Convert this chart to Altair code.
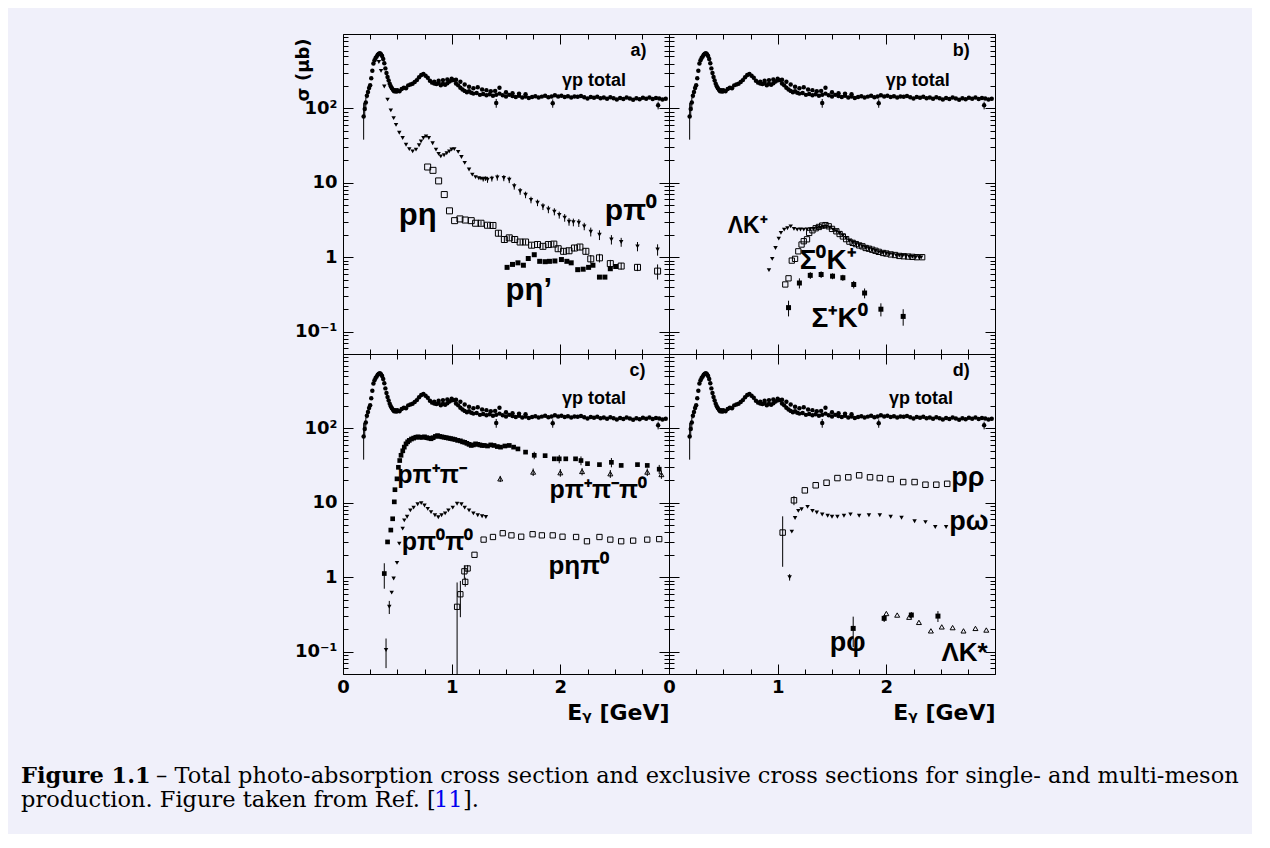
import altair as alt
import pandas as pd

FONT = "Liberation Sans"      # annotations
AXFONT = "DejaVu Sans"        # axis labels / titles (wider, as in the reference)
SERIF = "DejaVu Serif"
BG = "#f0f0fa"
W, H = 326, 320

# ---------------- total photo-absorption (same in all panels) ----------------
tot_E = [0.19,0.20,0.21,0.22,0.23,0.24,0.25,0.26,0.27,0.28,
         0.29,0.30,0.31,0.32,0.33,0.34,0.35,0.36,0.37,0.38,
         0.39,0.40,0.41,0.42,0.43,0.44,0.45,0.46,0.47,0.48,
         0.49,0.50,0.52,0.54,0.56,0.58,0.60,0.62,0.64,0.66,
         0.68,0.70,0.72,0.74,0.76,0.78,0.80,0.82,0.84,0.86,
         0.88,0.90,0.92,0.94,0.96,0.98,1.00,1.02,1.04,1.06,
         1.08,1.10,1.12,1.14,1.16,1.18,1.20,1.23,1.26,1.29,
         1.32,1.35,1.38,1.41,1.44,1.47,1.50,1.53,1.56,1.59,
         1.62,1.65,1.68,1.71,1.74,1.77,1.80,1.83,1.86,1.89,
         1.92,1.95,1.98,2.01,2.04,2.07,2.10,2.13,2.16,2.19,
         2.22,2.25,2.28,2.31,2.34,2.37,2.40,2.43,2.46,2.49,
         2.52,2.55,2.58,2.61,2.64,2.67,2.70,2.73,2.76,2.79,
         2.82,2.85,2.88,2.91,2.94,2.97]
tot_S = [78,98,120,148,166,188,205,255,320,400,
         445,475,500,528,545,550,535,505,460,405,
         345,300,265,238,215,198,186,178,170,176,
         168,175,170,182,190,186,204,210,214,226,
         240,262,282,290,274,258,236,222,216,212,
         220,204,214,208,218,230,238,240,216,204,
         190,180,172,165,170,162,158,161,152,156,
         150,155,148,152,158,150,145,152,147,142,
         148,140,145,138,142,146,140,144,148,141,
         145,150,145,148,142,146,140,145,143,147,
         141,136,142,139,143,137,140,135,141,137,
         132,138,134,140,136,131,137,133,139,135,
         140,134,138,136,132,135]
tot_err = [40, 22, 20, 12] + [0] * (len(tot_E) - 4)
tot2_E = [0.84,0.88,0.92,0.96,1.00,1.04,1.08,1.12,1.16,1.20,1.24,1.28,1.32,1.36,1.40,1.44,1.50,1.56,1.62,1.68]
tot2_S = [228,236,240,245,250,242,228,210,196,186,192,180,176,170,172,190,165,160,158,155]
tot3_E = [1.41, 1.93, 2.90]
tot3_S = [118, 117, 110]
tot3_err = [16, 15, 13]

# ---------------- panel a ----------------
pi0_E = [0.33,0.35,0.38,0.41,0.44,0.466,0.488,0.518,0.549,0.58,0.61,0.641,0.672,0.70,0.718,
         0.74,0.764,0.79,0.825,0.856,0.88,0.90,0.93,0.955,0.978,1.00,1.024,1.06,1.09,1.12,
         1.16,1.19,1.22,1.25,1.27,1.29,1.31,1.33,1.37,1.42,1.48,1.53,1.576,1.63,1.68,
         1.73,1.79,1.84,1.89,1.945,1.99,2.04,2.08,2.12,2.17,2.22,2.28,2.36,2.47,2.56,2.71,2.895]
pi0_S = [420,320,197,131,94,74,60,47,40,32.5,28.3,26.5,27.9,32,36,
         40,42,40,34,27.9,24.5,22.7,23.5,25,26.5,28,28.3,26,22.2,18.5,
         15.1,12.9,11.9,11.5,11.4,11.2,11.4,11,11.4,11.8,11.6,11,9.0,7.7,6.9,
         5.9,5.4,4.8,4.4,4.1,3.7,3.4,3.0,2.95,2.9,2.6,2.2,2.0,1.73,1.6,1.4,1.27]
pi0_err = [0] * 35 + [0.8,0.8,1.0,1.0,1.1,1.1,1.1,0.9,0.8,0.7,0.6,0.55,0.5,0.5,0.45,
                      0.4,0.4,0.35,0.35,0.35,0.3,0.3,0.3,0.25,0.22,0.2,0.22]

eta_E = [0.779,0.828,0.88,0.932,0.98,1.027,1.076,1.125,1.18,1.22,1.27,1.33,1.38,1.43,1.485,
         1.53,1.58,1.63,1.68,1.736,1.79,1.84,1.89,1.94,1.98,2.03,2.08,2.13,2.18,2.235,
         2.28,2.36,2.46,2.56,2.71,2.895]
eta_S = [16.3,14.7,10.6,6.95,4.2,3.1,3.27,3.16,3.1,2.86,2.86,2.69,2.67,2.1,1.73,
         1.82,1.73,1.6,1.6,1.45,1.48,1.4,1.48,1.5,1.3,1.2,1.22,1.33,1.37,1.2,
         0.95,0.98,0.82,0.76,0.73,0.65]
eta_err = [0] * 10 + [0.2,0.2,0.2,0.2,0.18,0.15,0.15,0.13,0.13,0.12,0.12,0.12,0.12,0.13,0.12,
                      0.12,0.12,0.13,0.13,0.12,0.12,0.13,0.1,0.08,0.08,0.15]

etap_E = [1.51,1.56,1.61,1.66,1.705,1.76,1.81,1.86,1.90,1.95,2.01,2.06,2.10,2.16,2.21,2.26,2.30,2.36,2.41,2.46,2.51]
etap_S = [0.73,0.80,0.84,0.78,0.96,1.08,0.88,0.87,0.88,0.89,0.93,0.88,0.84,0.68,0.69,0.73,0.78,0.54,0.54,0.70,0.75]

# ---------------- panel b ----------------
lk_E = [0.92,0.95,0.98,1.01,1.03,1.06,1.09,1.12,1.15,1.18,1.21,1.24,1.27,1.30,1.33,1.36,1.39,1.42,1.45,1.48,
        1.51,1.54,1.57,1.60,1.63,1.66,1.69,1.72,1.75,1.78,1.81,1.84,1.87,1.90,1.93,1.97,2.00,2.03,2.06,2.09,
        2.12,2.15,2.18,2.21,2.24,2.27,2.30,2.32]
lk_S = [0.67,0.95,1.33,1.78,2.12,2.35,2.45,2.6,2.4,2.35,2.36,2.35,2.36,2.38,2.4,2.45,2.5,2.55,2.58,2.5,
        2.35,2.23,2.1,1.95,1.8,1.66,1.58,1.5,1.45,1.4,1.34,1.3,1.25,1.21,1.17,1.14,1.12,1.1,1.08,1.06,
        1.05,1.04,1.03,1.02,1.01,1.0,1.0,0.99]
s0k_E = [1.07,1.10,1.13,1.16,1.19,1.22,1.24,1.27,1.29,1.32,1.35,1.38,1.41,1.44,1.47,1.50,1.54,1.57,1.60,1.63,
         1.66,1.69,1.72,1.75,1.78,1.81,1.84,1.87,1.90,1.93,1.97,2.00,2.04,2.08,2.12,2.16,2.20,2.24,2.28,2.33]
s0k_S = [0.43,0.52,0.9,0.95,1.2,1.48,1.64,1.74,2.12,2.3,2.45,2.55,2.66,2.7,2.6,2.4,2.23,2.05,1.9,1.75,
         1.62,1.56,1.5,1.44,1.4,1.33,1.3,1.26,1.22,1.18,1.14,1.12,1.09,1.07,1.04,1.03,1.02,1.01,1.0,1.0]
spk_E = [1.10,1.20,1.30,1.40,1.505,1.60,1.70,1.80,1.95,2.155]
spk_S = [0.21,0.45,0.57,0.585,0.556,0.53,0.43,0.33,0.20,0.16]
spk_err = [0.05,0.07,0.06,0.06,0.05,0.05,0.05,0.05,0.04,0.04]

# ---------------- panel c ----------------
pipi_E = [0.38,0.41,0.44,0.457,0.472,0.478,0.497,0.51,0.522,0.534,0.55,0.564,0.58,0.595,0.61,
          0.63,0.65,0.67,0.69,0.71,0.73,0.75,0.77,0.79,0.81,0.83,0.85,0.87,0.89,0.91,
          0.93,0.95,0.97,0.99,1.01,1.03,1.055,1.08,1.10,1.12,1.14,1.16,1.18,1.20,1.22,
          1.24,1.26,1.28,1.30,1.33,1.36,1.39,1.42,1.45,1.49,1.53,1.57,1.61,1.68,1.76,
          1.86,1.945,1.99,2.05,2.14,2.19,2.25,2.36,2.47,2.56,2.71,2.80,2.91]
pipi_S = [1.12,2.98,4.3,6.1,10.3,15,21,30,37,43.5,50,56,62,66,69,
          72,74,76,77,76,76,77,75,74,72.6,75,78,80,78,77,
          76,75,74,73,72,71,69,68,66,65,63,61,59,60,62,
          61,60,59,59,58,60,59,57,56,58,59,56,53,48,43.5,
          43,39,39,39,39,37,33.6,32.6,35,31.8,32.6,31.8,28.3]
pipi_err = [0.42] + [0] * 58 + [5,0,0,5,0,0,5,0,0,5,0,0,0,4]
ppp_E = [1.447,1.75,2.0,2.20,2.46,2.80,2.93]
ppp_S = [21,25.9,25.4,26.4,24.6,25.9,24]
ppp_err = [2,3,3,3,3,3,3]
p00_E = [0.396,0.426,0.448,0.466,0.497,0.518,0.549,0.564,0.59,0.62,0.65,0.687,0.72,0.75,0.78,
         0.81,0.846,0.877,0.907,0.94,0.97,1.01,1.05,1.09,1.12,1.16,1.20,1.24,1.28,1.315]
p00_S = [0.105,0.4,0.62,0.96,1.56,2.83,4.5,5.8,6.5,7.9,8.6,9.55,9.9,9.2,8.3,
         7.5,6.8,6.4,6.8,7.2,7.9,8.6,9.7,9.55,8.6,7.9,7.2,6.8,6.6,6.45]
p00_err = [0.045, 0.08] + [0] * 28
epi_E = [1.05,1.08,1.117,1.125,1.147,1.21,1.294,1.38,1.47,1.55,1.64,1.745,1.83,1.93,2.02,
         2.145,2.245,2.36,2.46,2.56,2.67,2.80,2.91]
epi_S = [0.4,0.59,1.2,0.865,1.31,2.0,3.2,3.47,3.9,3.65,3.5,3.78,3.65,3.65,3.5,
         3.47,3.04,3.47,3.2,3.04,3.1,3.2,3.25]
epi_err = [0.45,0.3,0.25,0.12,0.15] + [0] * 18

# ---------------- panel d ----------------
rho_E = [1.046,1.15,1.25,1.35,1.45,1.55,1.65,1.75,1.85,1.94,2.04,2.155,2.26,2.36,2.46,2.56]
rho_S = [3.98,10.8,14.7,17.2,18.6,21.5,22,23.4,22,21.5,20.8,19,19,17.5,17.5,18]
rho_err = [2.6,1.5] + [0] * 14
om_E = [1.11,1.13,1.16,1.19,1.22,1.275,1.32,1.36,1.41,1.46,1.50,1.55,1.61,1.67,1.75,1.84,1.94,2.04,2.14,2.26,2.36,2.45,2.55]
om_S = [1.0,4.1,6.25,7.8,8.2,8.8,7.8,7.4,6.95,6.7,6.5,6.5,6.7,7.0,6.7,6.8,6.8,6.5,6.3,5.65,5.5,4.73,4.73]
om_err = [0.1] + [0] * 22
phi_E = [1.695,1.98,2.23,2.475]
phi_S = [0.205,0.28,0.31,0.30]
phi_err = [0.09,0.03,0.03,0.05]
lks_E = [2.0,2.10,2.21,2.30,2.41,2.51,2.61,2.71,2.82,2.92]
lks_S = [0.325,0.31,0.29,0.247,0.19,0.215,0.21,0.19,0.205,0.195]

# ---------------- annotations ----------------
lab_a = (["a)", "γp total", "pπ⁰", "pη", "pη’"],
         [2.72, 2.31, 2.65, 0.687, 1.71], [600, 230, 4.14, 3.55, 0.35], [18, 18, 30, 31, 31])
lab_b = (["b)", "γp total", "ΛK⁺", "Σ⁰K⁺", "Σ⁺K⁰"],
         [2.69, 2.29, 0.724, 1.46, 1.57], [600, 235, 2.6, 0.88, 0.146], [18, 18, 23, 28, 28])
lab_c = (["c)", "γp total", "pπ⁺π⁻", "pπ⁺π⁻π⁰", "pπ⁰π⁰", "pηπ⁰"],
         [2.71, 2.31, 0.82, 2.35, 0.87, 2.17], [600, 251, 24, 15, 2.98, 1.42], [18, 18, 25, 25, 25, 26])
lab_d = (["d)", "γp total", "pρ", "pω", "pφ", "ΛK*"],
         [2.69, 2.32, 2.75, 2.76, 1.645, 2.72], [600, 251, 21.5, 5.5, 0.129, 0.0946], [18, 18, 27, 27, 27, 26])

cap_text = ["Figure 1.1",
            "– Total photo-absorption cross section and exclusive cross sections for single- and multi-meson",
            "production. Figure taken from Ref. [", "11", "]."]

# ---------------- helpers ----------------
xs = alt.Scale(domain=[0, 3], nice=False, zero=False)
ys = alt.Scale(type="log", domain=[0.05, 1000], nice=False, clamp=True)
holder = pd.DataFrame({"E": [1.0], "s": [1.0]})

MAJ_X = [0, 1, 2, 3]
MIN_X = [i * 0.25 for i in range(13) if i % 4]
MAJ_Y = [0.1, 1, 10, 100]
MIN_Y = [k * 10.0 ** p for p in range(-2, 3) for k in range(2, 10) if 0.05 <= k * 10.0 ** p <= 1000]


def mk(E, S, err=None):
    d = pd.DataFrame({"E": E, "s": S})
    d["err"] = err if err is not None else 0.0
    d["lo"] = (d["s"] - d["err"]).clip(lower=0.01)
    d["hi"] = d["s"] + d["err"]
    return d


def series(d, shape, filled, size):
    out = []
    e = d[d["err"] > 0]
    if len(e):
        out.append(alt.Chart(e).mark_rule(color="black", strokeWidth=1).encode(
            x=alt.X("E:Q", scale=xs, axis=None),
            y=alt.Y("lo:Q", scale=ys, axis=None), y2="hi:Q"))
    out.append(alt.Chart(d).mark_point(shape=shape, filled=filled, size=size, color="black",
                                       opacity=1, strokeWidth=1).encode(
        x=alt.X("E:Q", scale=xs, axis=None), y=alt.Y("s:Q", scale=ys, axis=None)))
    return out


def labels(lab):
    out = []
    for t, e, s, z in zip(*lab):
        d = pd.DataFrame({"E": [e], "s": [s], "t": [t]})
        out.append(alt.Chart(d).mark_text(font=FONT, fontWeight="bold", fontSize=z, color="black",
                                          align="center", baseline="middle").encode(
            x=alt.X("E:Q", scale=xs, axis=None), y=alt.Y("s:Q", scale=ys, axis=None), text="t:N"))
    return out


BASE_AX = dict(domain=False, grid=False, tickColor="black", tickWidth=1, labelFont=AXFONT,
               labelFontSize=18, labelFontWeight="bold", labelColor="black",
               labelFlush=False, labelOverlap=False)


def xaxis(orient, vals, L, lab=False, title=False):
    kw = dict(BASE_AX)
    kw.update(orient=orient, values=vals, tickSize=L, offset=-L, labels=lab, labelPadding=4)
    if lab:
        kw.update(labelExpr="datum.value > 2.5 ? '' : format(datum.value, 'd')")
    if title:
        kw.update(title="Eᵧ  [GeV]", titleFont=AXFONT, titleFontSize=22, titleFontWeight="bold",
                  titleColor="black", titleAnchor="end", titlePadding=6)
    else:
        kw.update(title=None)
    return alt.Axis(**kw)


def yaxis(orient, vals, L, lab=False, title=False):
    kw = dict(BASE_AX)
    kw.update(orient=orient, values=vals, tickSize=L, offset=-L, labels=lab, labelPadding=6)
    if lab:
        kw.update(labelExpr="datum.value > 50 ? '10²' : datum.value > 5 ? '10' : datum.value > 0.5 ? '1' : '10⁻¹'")
    if title:
        kw.update(title="σ (μb)", titleFont=AXFONT, titleFontSize=18, titleFontWeight="bold",
                  titleColor="black", titleAngle=270, titleAlign="right", titleBaseline="middle",
                  titleX=-50, titleY=4)
    else:
        kw.update(title=None)
    return alt.Axis(**kw)


def holder_layer(xa, ya):
    return alt.Chart(holder).mark_point(opacity=0).encode(
        x=alt.X("E:Q", scale=xs, axis=xa), y=alt.Y("s:Q", scale=ys, axis=ya))


def panel(layers, xlab=False, ylab=False, xtitle=False, ytitle=False):
    axl = [
        holder_layer(xaxis("bottom", MAJ_X, 10, xlab, xtitle), yaxis("left", MAJ_Y, 10, ylab, ytitle)),
        holder_layer(xaxis("bottom", MIN_X, 5), yaxis("left", MIN_Y, 5)),
        holder_layer(xaxis("top", MAJ_X, 10), yaxis("right", MAJ_Y, 10)),
        holder_layer(xaxis("top", MIN_X, 5), yaxis("right", MIN_Y, 5)),
    ]
    return alt.layer(*axl, *layers).resolve_axis(x="independent", y="independent").properties(width=W, height=H)


def total_layers():
    return (series(mk(tot_E, tot_S, tot_err), "circle", True, 20)
            + series(mk(tot2_E, tot2_S), "circle", True, 20)
            + series(mk(tot3_E, tot3_S, tot3_err), "circle", True, 20))


# ---------------- panels ----------------
pa = panel(total_layers()
           + series(mk(pi0_E, pi0_S, pi0_err), "triangle-down", True, 20)
           + series(mk(eta_E, eta_S, eta_err), "square", False, 36)
           + series(mk(etap_E, etap_S), "square", True, 25)
           + labels(lab_a), ylab=True, ytitle=True)

pb = panel(total_layers()
           + series(mk(lk_E, lk_S), "triangle-down", True, 20)
           + series(mk(s0k_E, s0k_S), "square", False, 28)
           + series(mk(spk_E, spk_S, spk_err), "square", True, 25)
           + labels(lab_b))

CAP_SIZE = 22.5
cap_x = [-322, -187, -322, 91, 120]
cap_y = [429, 429, 453, 453, 453]
cap_w = ["bold", "normal", "normal", "normal", "normal"]
cap_c = ["black", "black", "black", "#0000ee", "black"]
caption = [alt.Chart(holder).mark_text(text=t, font=SERIF, fontSize=CAP_SIZE, fontWeight=w, color=c,
                                       align="left", baseline="alphabetic").encode(
    x=alt.value(x), y=alt.value(y)) for t, x, y, w, c in zip(cap_text, cap_x, cap_y, cap_w, cap_c)]

pc = panel(total_layers()
           + series(mk(pipi_E, pipi_S, pipi_err), "square", True, 22)
           + series(mk(ppp_E, ppp_S, ppp_err), "triangle-up", False, 25)
           + series(mk(p00_E, p00_S, p00_err), "triangle-down", True, 20)
           + series(mk(epi_E, epi_S, epi_err), "square", False, 28)
           + labels(lab_c) + caption, xlab=True, ylab=True, xtitle=True)

pd_ = panel(total_layers()
            + series(mk(rho_E, rho_S, rho_err), "square", False, 30)
            + series(mk(om_E, om_S, om_err), "triangle-down", True, 20)
            + series(mk(phi_E, phi_S, phi_err), "square", True, 25)
            + series(mk(lks_E, lks_S), "triangle-up", False, 25)
            + labels(lab_d), xlab=True, xtitle=True)

chart = (alt.concat(pa, pb, pc, pd_, columns=2, spacing=0, bounds="flush")
         .properties(background=BG, padding={"left": 12, "top": 25, "right": 12, "bottom": 22})
         .configure_view(stroke="black", strokeWidth=1))

chart.save("out.html", embed_options={"renderer": "svg", "actions": False})
